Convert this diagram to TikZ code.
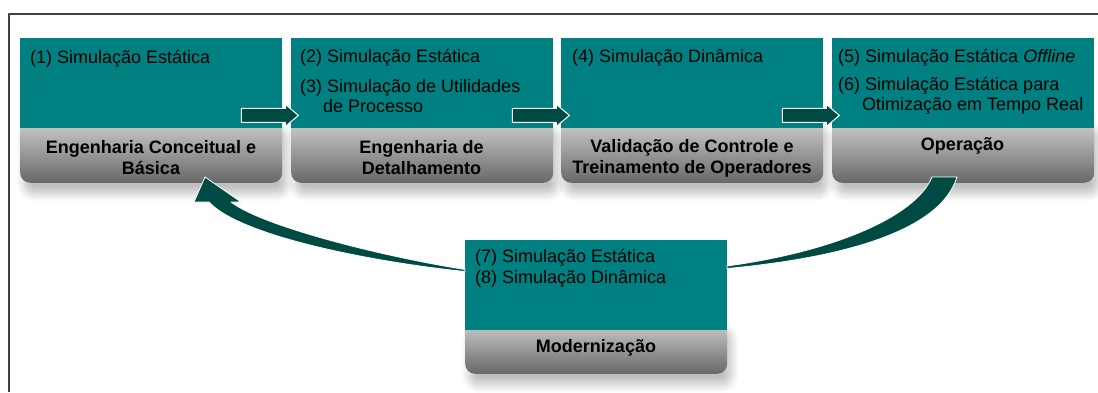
\documentclass[tikz,border=0pt]{standalone}
\usepackage{fontspec}
\setmainfont{Liberation Sans}
\usetikzlibrary{shadows.blur}
\definecolor{verde}{HTML}{008080}
\definecolor{verdeesc}{HTML}{004A44}
\definecolor{cinzaclaro}{HTML}{D2D2D2}
\definecolor{cinzaesc}{HTML}{686868}
\tikzset{
	etapa/.style={fill=verde, minimum width=262pt, minimum height=90pt, anchor=north west, inner sep=0pt},
	rotulo/.style={rounded corners=10pt, top color=cinzaclaro, bottom color=cinzaesc, minimum width=262pt, minimum height=65pt, anchor=south west, inner sep=0pt,
		blur shadow={shadow xshift=4pt, shadow yshift=-11pt, shadow blur radius=8pt, shadow blur steps=8, shadow opacity=25}},
	item/.style={anchor=base west, inner sep=0pt},
	titulo/.style={align=center, inner sep=0pt, font=\fontsize{18}{21}\selectfont\bfseries},
	seta/.style={fill=verdeesc, draw=white, line width=1pt},
}
\begin{document}
\begin{tikzpicture}[x=1pt, y=-1pt, font=\fontsize{18}{21}\selectfont, line join=round]
	\useasboundingbox (0,0) rectangle (1098,392);
	\draw[line width=1.5pt, black!75] (9,392) -- (9,14) -- (1098,14);
	% etapas
	\node[rotulo] (r1) at (20,183) {};
	\node[rotulo] (r2) at (291,183) {};
	\node[rotulo] (r3) at (561,183) {};
	\node[rotulo] (r4) at (832,183) {};
	\node[rotulo, minimum height=55pt] (rm) at (465,374) {};
	\node[etapa] (s1) at (20,38) {};
	\node[etapa] (s2) at (291,38) {};
	\node[etapa] (s3) at (561,38) {};
	\node[etapa] (s4) at (832,38) {};
	\node[etapa] (sm) at (465,240) {};
	% textos
	\node[item] (t1) at (30,63) {(1) Simulação Estática};
	\node[item] (t2) at (300,62) {(2) Simulação Estática};
	\node[item] (t3) at (300,92) {(3) Simulação de Utilidades};
	\node[item] (t3b) at (323,112) {de Processo};
	\node[item] (t4) at (572,62) {(4) Simulação Dinâmica};
	\node[item] (t5) at (838,62) {(5) Simulação Estática \textit{Offline}};
	\node[item] (t6) at (838,90) {(6) Simulação Estática para};
	\node[item] (t6b) at (862,110) {Otimização em Tempo Real};
	\node[item] (t7) at (475,262) {(7) Simulação Estática};
	\node[item] (t8) at (475,283) {(8) Simulação Dinâmica};
	\node[titulo] (e1) at (151,158) {Engenharia Conceitual e\\Básica};
	\node[titulo] (e2) at (421.5,158) {Engenharia de\\Detalhamento};
	\node[titulo] (e3) at (692,158) {Validação de Controle e\\Treinamento de Operadores};
	\node[titulo, anchor=base] (e4) at (962.5,150) {Operação};
	\node[titulo, anchor=base] (em) at (596,352) {Modernização};
	% setas entre etapas
	\draw[seta] ([xshift=-41pt, yshift=6pt]s1.south east) -- ++(44,0) -- ++(0,4) -- ++(13,-11) -- ++(-13,-11) -- ++(0,4) -- ++(-44,0) -- cycle;
	\draw[seta] ([xshift=-41pt, yshift=6pt]s2.south east) -- ++(44,0) -- ++(0,4) -- ++(13,-11) -- ++(-13,-11) -- ++(0,4) -- ++(-44,0) -- cycle;
	\draw[seta] ([xshift=-41pt, yshift=6pt]s3.south east) -- ++(44,0) -- ++(0,4) -- ++(13,-11) -- ++(-13,-11) -- ++(0,4) -- ++(-44,0) -- cycle;
	% retorno da modernizacao
	\coordinate (mesq) at (465,270);
	\coordinate (mdir) at (727,267);
	\draw[seta, line width=0.8pt] ([yshift=0.5pt]mesq) .. controls (380,256) and (262,226) .. (231,202) -- (241,202) -- (205,177) -- (194,202) -- (209,202) .. controls (240,236) and (372,262) .. ([yshift=-1.5pt]mesq) -- cycle;
	\draw[seta, line width=0.8pt] ([yshift=1pt]mdir) .. controls (830,252) and (915,218) .. (932,177) -- (957,177) .. controls (940,232) and (840,258) .. ([yshift=-1.5pt]mdir) -- cycle;
\end{tikzpicture}
\end{document}
